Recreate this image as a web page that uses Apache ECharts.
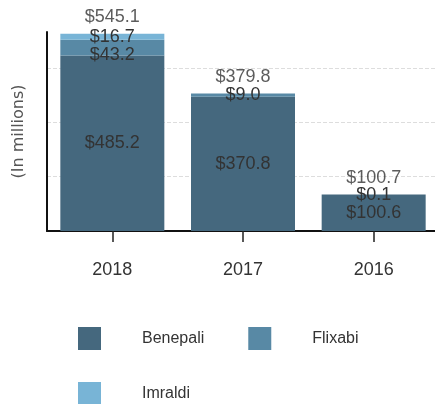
<!DOCTYPE html>
<html>
<head>
<meta charset="utf-8">
<script src="https://cdn.jsdelivr.net/npm/echarts@6/dist/echarts.min.js"></script>
<style>
  html, body { margin: 0; padding: 0; background: #fff; }
  #chart { width: 435px; height: 404px; }
</style>
</head>
<body>
<div id="chart"></div>
<script>
const years = ['2018', '2017', '2016']
const benepali = [485.2, 370.8, 100.6]
const flixabi = [43.2, 9.0, 0.1]
const imraldi = [16.7, 0, 0]
const totals = [545.1, 379.8, 100.7]

const font = 'Liberation Sans, Arial, sans-serif'
const fmt = (p) => (p.value ? '$' + Number(p.value).toFixed(1) : '')

const barLabel = {
  show: true,
  position: 'inside',
  color: '#333',
  fontSize: 18,
  fontFamily: font,
  formatter: fmt,
}

const legendBase = {
  left: 73,
  itemWidth: 23,
  itemHeight: 23,
  itemGap: 44,
  icon: 'rect',
  textStyle: {
    fontSize: 16,
    fontFamily: font,
    color: '#333',
    padding: [0, 0, 0, 36],
  },
}

const chart = echarts.init(document.getElementById('chart'))

chart.setOption({
  backgroundColor: '#fff',
  animation: false,
  grid: { left: 47, width: 392, top: 32, bottom: 173, outerBoundsMode: 'none' },
  legend: [
    { ...legendBase, top: 322, data: ['Benepali', 'Flixabi'] },
    { ...legendBase, top: 377, data: ['Imraldi'] },
  ],
  xAxis: {
    type: 'category',
    data: years,
    axisLine: { lineStyle: { color: '#111', width: 2 } },
    axisTick: { show: true, alignWithLabel: true, length: 11, lineStyle: { color: '#222', width: 1.5 } },
    axisLabel: { margin: 30, fontSize: 18, fontFamily: font, color: '#333' },
  },
  yAxis: {
    type: 'value',
    min: 0,
    max: 550,
    interval: 150,
    name: '(In millions)',
    nameLocation: 'middle',
    nameGap: 20,
    nameTextStyle: { fontSize: 16, fontFamily: 'DejaVu Sans, sans-serif', color: '#555' },
    axisLine: { show: true, lineStyle: { color: '#111', width: 2 } },
    axisTick: { show: false },
    axisLabel: { show: false },
    splitLine: {
      show: true,
      showMaxLine: false,
      lineStyle: { color: '#ddd', type: [4, 2] },
    },
  },
  series: [
    {
      name: 'Benepali',
      type: 'bar',
      stack: 'total',
      barWidth: 104,
      itemStyle: { color: '#45687e' },
      label: barLabel,
      data: benepali,
    },
    {
      name: 'Flixabi',
      type: 'bar',
      stack: 'total',
      itemStyle: { color: '#5889a5' },
      label: barLabel,
      data: flixabi.map((v, i) =>
        i === 0
          ? { value: v, label: { position: ['50%', '100%'], align: 'center', verticalAlign: 'middle' } }
          : v
      ),
    },
    {
      name: 'Imraldi',
      type: 'bar',
      stack: 'total',
      itemStyle: { color: '#78b4d6' },
      label: barLabel,
      data: imraldi,
    },
    {
      name: 'Total',
      type: 'scatter',
      symbolSize: 0,
      silent: true,
      label: {
        show: true,
        position: 'top',
        distance: 8,
        color: '#333',
        fontSize: 18,
        fontFamily: font,
        formatter: fmt,
      },
      data: totals,
    },
  ],
})
</script>
</body>
</html>
